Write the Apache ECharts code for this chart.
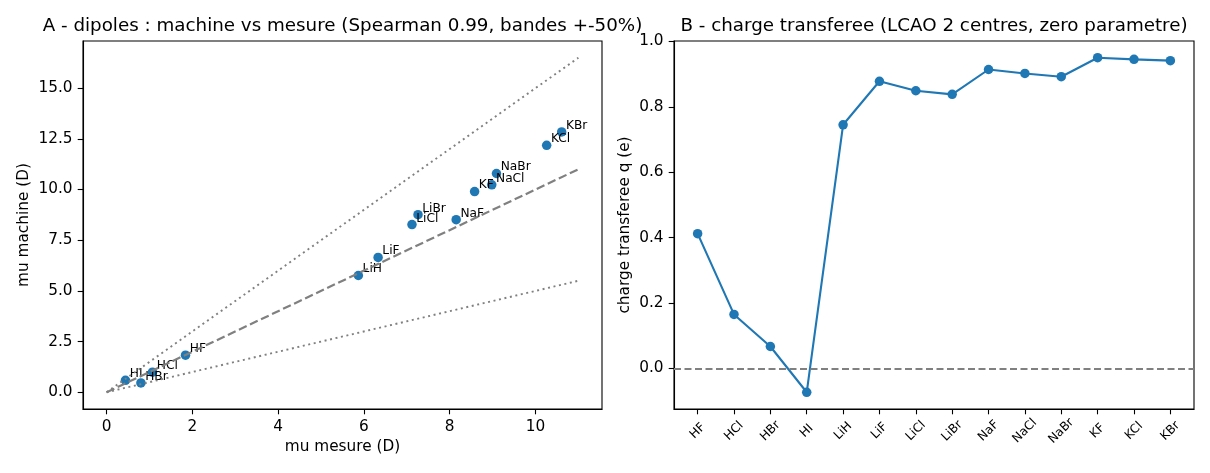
<!DOCTYPE html>
<html>
<head>
<meta charset="utf-8">
<script src="https://cdn.jsdelivr.net/npm/echarts@6/dist/echarts.min.js"></script>
<style>
	html, body { margin:0; padding:0; background:#fff; }
	#chart { width:1210px; height:473px; }
</style>
</head>
<body>
<div id="chart"></div>
<script>
	// molecules, same order in both panels
	var molecules = ["HF","HCl","HBr","HI","LiH","LiF","LiCl","LiBr","NaF","NaCl","NaBr","KF","KCl","KBr"];

	// panel A : measured vs computed dipole (Debye)
	var muMeasured = [1.84, 1.07, 0.80, 0.44, 5.87, 6.33, 7.12, 7.26, 8.15, 8.98, 9.09, 8.58, 10.26, 10.61];
	var muMachine  = [1.83, 0.99, 0.46, 0.59, 5.76, 6.65, 8.27, 8.76, 8.51, 10.23, 10.79, 9.90, 12.18, 12.84];

	// guide lines y = f * x over this x range
	var guideRange = [0, 11];
	var guideFactors = [1, 1.5, 0.5];

	// panel B : transferred charge (e)
	var charge = [0.412, 0.165, 0.067, -0.073, 0.745, 0.878, 0.849, 0.838, 0.914, 0.902, 0.892, 0.950, 0.945, 0.941];

	// tick values
	var ticksAx = [0, 2, 4, 6, 8, 10];
	var ticksAy = [0, 2.5, 5, 7.5, 10, 12.5, 15];
	var ticksBy = [0, 0.2, 0.4, 0.6, 0.8, 1.0];

	var FONT = "DejaVu Sans";
	var BLUE = "#1f77b4";
	var GRAY = "#808080";

	// matplotlib style 5% margins
	var padRange = function(lo, hi){
		var d = (hi - lo) * 0.05;
		return [lo - d, hi + d];
	}

	var guideMaxY = guideRange[1] * Math.max.apply(null, guideFactors);
	var limAx = padRange(guideRange[0], guideRange[1]);
	var limAy = padRange(guideRange[0] * Math.max.apply(null, guideFactors), guideMaxY);
	var limBx = padRange(0, molecules.length - 1);
	var limBy = padRange(Math.min.apply(null, charge), Math.max.apply(null, charge));

	var tickStyle = {show:true, inside:false, length:5.3, lineStyle:{color:"#000", width:1.1}};
	var labelStyle = {color:"#000", fontFamily:FONT, fontSize:15.3, margin:10.5};
	var nameStyle = {color:"#000", fontFamily:FONT, fontSize:15.3};
	var axisLineStyle = {show:true, onZero:false, lineStyle:{color:"#000", width:1.1}};

	var copyObject = function(obj, origin){
		for (var key in origin){
			obj[key] = origin[key];
		}
		return obj;
	}

	var scatterData = [];
	for (var i = 0; i < molecules.length; i++){
		scatterData.push({name:molecules[i], value:[muMeasured[i], muMachine[i]]});
	}

	var guideSeries = [];
	for (var k = 0; k < guideFactors.length; k++){
		var f = guideFactors[k];
		var dashed = k == 0;
		guideSeries.push({
			type:"line",
			xAxisIndex:0,
			yAxisIndex:0,
			silent:true,
			symbol:"none",
			z:3,
			data:[[guideRange[0], guideRange[0] * f], [guideRange[1], guideRange[1] * f]],
			lineStyle:{
				color:GRAY,
				width: dashed ? 2.2 : 1.9,
				type: dashed ? [8.5, 3.7] : [2, 3.6]
			}
		});
	}

	var chargeData = [];
	var catTicks = [];
	for (var j = 0; j < charge.length; j++){
		chargeData.push([j, charge[j]]);
		catTicks.push(j);
	}

	var option = {
		animation:false,
		backgroundColor:"#fff",
		textStyle:{fontFamily:FONT},
		title:[
			{text:"A - dipoles : machine vs mesure (Spearman 0.99, bandes +-50%)", left:337.5, top:12, textAlign:"center",
				textStyle:{fontFamily:FONT, fontSize:18.3, fontWeight:"normal", color:"#000"}},
			{text:"B - charge transferee (LCAO 2 centres, zero parametre)", left:929, top:12, textAlign:"center",
				textStyle:{fontFamily:FONT, fontSize:18.3, fontWeight:"normal", color:"#000"}}
		],
		grid:[
			{left:83, top:41, width:519, height:368, show:true, borderColor:"#000", borderWidth:1.1, backgroundColor:"#fff"},
			{left:674, top:41, width:520, height:368, show:true, borderColor:"#000", borderWidth:1.1, backgroundColor:"#fff"}
		],
		xAxis:[
			{
				type:"value", gridIndex:0, min:limAx[0], max:limAx[1],
				name:"mu mesure (D)", nameLocation:"middle", nameGap:31, nameTextStyle:nameStyle,
				axisLine:axisLineStyle, splitLine:{show:false},
				axisTick:copyObject({customValues:ticksAx}, tickStyle),
				axisLabel:copyObject({customValues:ticksAx, formatter:function(v){ return String(v); }}, labelStyle)
			},
			{
				type:"value", gridIndex:1, min:limBx[0], max:limBx[1],
				axisLine:axisLineStyle, splitLine:{show:false},
				axisTick:copyObject({customValues:catTicks}, tickStyle),
				axisLabel:{
					customValues:catTicks,
					formatter:function(v){ return molecules[Math.round(v)]; },
					rotate:45, align:"center", verticalAlign:"middle", margin:22,
					color:"#000", fontFamily:FONT, fontSize:12.2
				}
			}
		],
		yAxis:[
			{
				type:"value", gridIndex:0, min:limAy[0], max:limAy[1],
				name:"mu machine (D)", nameLocation:"middle", nameGap:51, nameTextStyle:nameStyle,
				axisLine:axisLineStyle, splitLine:{show:false},
				axisTick:copyObject({customValues:ticksAy}, tickStyle),
				axisLabel:copyObject({customValues:ticksAy, formatter:function(v){ return v.toFixed(1); }}, labelStyle)
			},
			{
				type:"value", gridIndex:1, min:limBy[0], max:limBy[1],
				name:"charge transferee q (e)", nameLocation:"middle", nameGap:41, nameTextStyle:nameStyle,
				axisLine:axisLineStyle, splitLine:{show:false},
				axisTick:copyObject({customValues:ticksBy}, tickStyle),
				axisLabel:copyObject({customValues:ticksBy, formatter:function(v){ return v.toFixed(1); }}, labelStyle)
			}
		],
		series:guideSeries.concat([
			{
				type:"scatter",
				xAxisIndex:0,
				yAxisIndex:0,
				z:2,
				symbolSize:9.5,
				itemStyle:{color:BLUE, opacity:1},
				data:scatterData,
				label:{
					show:true,
					formatter:"{b}",
					position:[9, 4.5],
					align:"left",
					verticalAlign:"bottom",
					color:"#000",
					fontFamily:FONT,
					fontSize:12.2
				}
			},
			{
				type:"line",
				xAxisIndex:1,
				yAxisIndex:1,
				z:2,
				symbol:"circle",
				symbolSize:9.5,
				showAllSymbol:true,
				itemStyle:{color:BLUE},
				lineStyle:{color:BLUE, width:2.1},
				data:chargeData,
				markLine:{
					silent:true,
					symbol:"none",
					label:{show:false},
					lineStyle:{color:GRAY, width:2.1, type:[7, 3.5]},
					data:[{yAxis:0}]
				}
			}
		])
	};

	var chart = echarts.init(document.getElementById("chart"), null, {renderer:"canvas"});
	chart.setOption(option);
</script>
</body>
</html>
